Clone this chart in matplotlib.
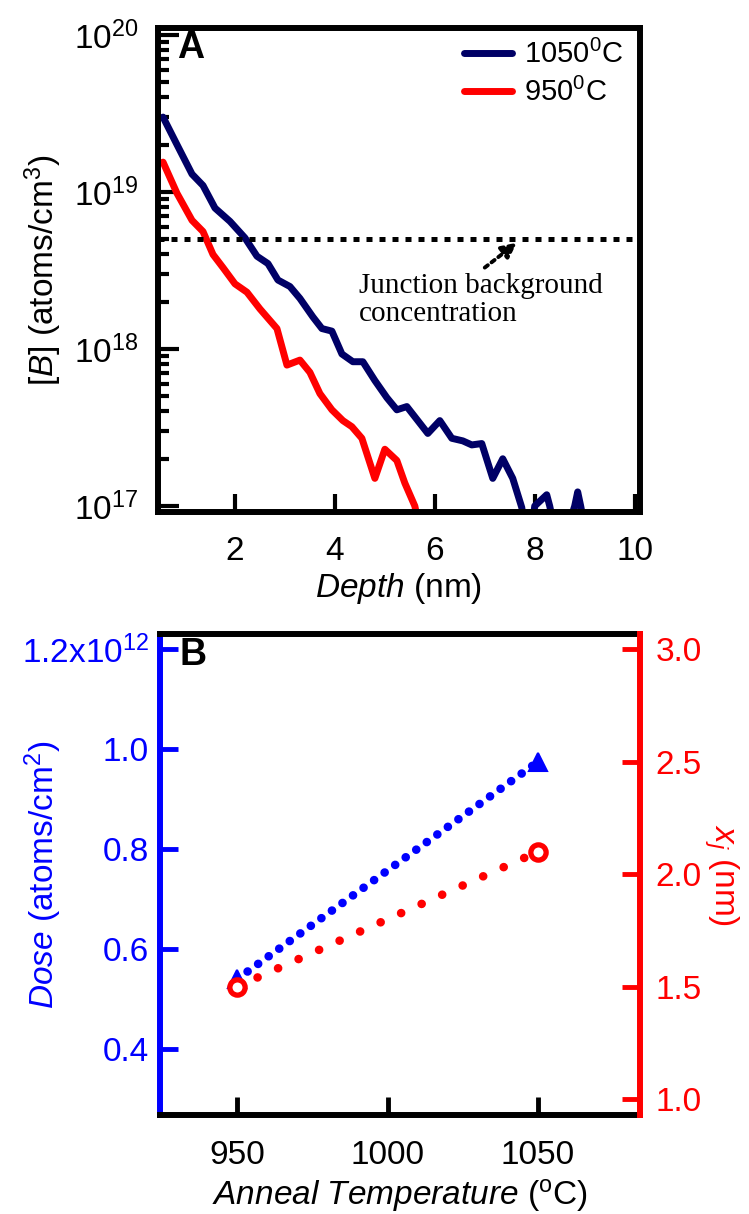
import matplotlib
matplotlib.use('Agg')
import matplotlib.pyplot as plt
from matplotlib.ticker import FixedLocator, FuncFormatter, LogLocator, NullFormatter

plt.rcParams['font.family'] = ['Liberation Sans', 'DejaVu Sans']
plt.rcParams['mathtext.fontset'] = 'custom'
plt.rcParams['mathtext.rm'] = 'Liberation Sans'
plt.rcParams['mathtext.it'] = 'Liberation Sans:italic'
plt.rcParams['mathtext.bf'] = 'Liberation Sans:bold'

# boron depth profiles (nm, atoms/cm^3)
depth_1050 = [0.56, 0.84, 1.14, 1.36, 1.6, 1.9, 2.2, 2.44, 2.66, 2.86, 3.1, 3.3,
              3.56, 3.74, 3.94, 4.14, 4.36, 4.56, 4.8, 5.04, 5.24, 5.44, 5.86,
              6.1, 6.34, 6.56, 6.74, 6.94, 7.16, 7.36, 7.56, 7.74, 7.88, 8.0,
              8.24, 8.3, 8.5, 8.8, 8.86, 8.92, 9.1]
conc_1050 = [3.0e19, 2.0e19, 1.3e19, 1.1e19, 7.9e18, 6.5e18, 5.1e18, 3.9e18,
             3.5e18, 2.75e18, 2.5e18, 2.1e18, 1.6e18, 1.35e18, 1.3e18, 9.3e17,
             8.3e17, 8.3e17, 6.3e17, 4.9e17, 4.1e17, 4.3e17, 2.9e17, 3.5e17,
             2.7e17, 2.6e17, 2.45e17, 2.5e17, 1.5e17, 2.0e17, 1.5e17, 0.98e17,
             5e16, 1.0e17, 1.18e17, 1.0e17, 5e16, 1.0e17, 1.23e17, 1.0e17, 5e16]
depth_950 = [0.56, 0.84, 1.14, 1.36, 1.56, 1.76, 2.0, 2.24, 2.5, 2.84, 3.04,
             3.3, 3.5, 3.7, 3.94, 4.16, 4.34, 4.54, 4.8, 5.0, 5.24, 5.4, 5.6, 5.8]
conc_950 = [1.55e19, 9.8e18, 6.6e18, 5.6e18, 4.0e18, 3.3e18, 2.6e18, 2.3e18,
            1.8e18, 1.35e18, 7.9e17, 8.5e17, 7.1e17, 5.2e17, 4.1e17, 3.5e17,
            3.2e17, 2.7e17, 1.5e17, 2.3e17, 1.95e17, 1.4e17, 1.0e17, 5e16]
junction_bg = 5e18

# dose and junction depth vs anneal temperature
anneal_T = [950, 1050]
dose_e12 = [0.54, 0.975]      # x 1e12 atoms/cm^2
xj_nm = [1.5, 2.1]

navy = '#000066'

fig = plt.figure(figsize=(7.49, 12.14), dpi=100)

# ---- panel A ----
axA = fig.add_axes([0.211, 0.578, 0.643, 0.399])
axA.plot(depth_1050, conc_1050, color=navy, lw=5, solid_capstyle='round',
         solid_joinstyle='round', label='1050$^0$C')
axA.plot(depth_950, conc_950, color='red', lw=5, solid_capstyle='round',
         solid_joinstyle='round', label='950$^0$C')
axA.axhline(junction_bg, color='k', lw=3.6, linestyle=(0, (1.2, 1.4)),
            dash_capstyle='butt')
axA.annotate('', xy=(7.64, 4.75e18), xytext=(7.0, 3.3e18),
             arrowprops=dict(arrowstyle='-|>', linestyle=(0, (1, 1.2)), lw=2.8,
                             color='k', mutation_scale=22, shrinkA=0, shrinkB=0))
axA.text(4.48, 3.05e18, 'Junction background\nconcentration', va='top',
         family='Liberation Serif', fontsize=21, linespacing=1.12)

axA.set_yscale('log')
axA.set_xlim(0.46, 10.1)
axA.set_ylim(10 ** 16.96, 10 ** 20.045)
axA.xaxis.set_major_locator(FixedLocator([2, 4, 6, 8, 10]))
axA.yaxis.set_major_locator(LogLocator(base=10, numticks=10))
axA.yaxis.set_minor_locator(LogLocator(base=10, subs=range(2, 10), numticks=10))
axA.yaxis.set_minor_formatter(NullFormatter())
axA.tick_params(axis='x', which='major', direction='in', length=13, width=3,
                labelsize=24, top=False, pad=17)
axA.tick_params(axis='y', which='major', direction='in', length=15, width=3,
                labelsize=24, right=False, pad=14)
axA.tick_params(axis='y', which='minor', direction='in', length=8, width=3,
                right=False)
for s in axA.spines.values():
    s.set_linewidth(4.3)
axA.set_xlabel(r'$\mathit{Depth}$ (nm)', fontsize=24, labelpad=3)
axA.set_ylabel(r'$\mathit{[B]}$ (atoms/cm$^3$)', fontsize=24)
axA.yaxis.set_label_coords(-0.195, 0.5)
axA.legend(loc='upper right', frameon=False, fontsize=21, handlelength=1.65,
           handletextpad=0.4, labelspacing=0.3, borderaxespad=0.0,
           bbox_to_anchor=(0.99, 1.0))
axA.text(0.04, 0.995, 'A', transform=axA.transAxes, va='top', fontsize=27,
         fontweight='bold')

# ---- panel B ----
axB = fig.add_axes([0.2136, 0.0815, 0.6409, 0.396])
axB2 = axB.twinx()
axB.plot(anneal_T, dose_e12, color='blue', lw=6.2, linestyle=(0, (0.01, 1.5)),
         dash_capstyle='round', marker='^', ms=13, mew=1.5)
axB2.plot(anneal_T, xj_nm, color='red', lw=6.2, linestyle=(0, (0.01, 2.6)),
          dash_capstyle='round', marker='o', ms=11, mew=3.8, mfc='white',
          mec='red')

axB.set_xlim(924.4, 1083.9)
axB.set_ylim(0.268, 1.23)
axB2.set_ylim(0.929, 3.067)
axB.xaxis.set_major_locator(FixedLocator([950, 1000, 1050]))
axB.yaxis.set_major_locator(FixedLocator([0.4, 0.6, 0.8, 1.0, 1.2]))
axB.yaxis.set_major_formatter(FuncFormatter(
    lambda v, p: '1.2x10$^{12}$' if v > 1.1 else '%.1f' % v))
axB2.yaxis.set_major_locator(FixedLocator([1.0, 1.5, 2.0, 2.5, 3.0]))
axB2.yaxis.set_major_formatter(FuncFormatter(lambda v, p: '%.1f' % v))

axB.tick_params(axis='x', direction='in', length=13, width=3.5, labelsize=24,
                top=False, pad=18)
axB.tick_params(axis='y', direction='in', length=13, width=3.5, labelsize=24,
                colors='blue', right=False, pad=8)
axB2.tick_params(axis='y', direction='in', length=13, width=3.5, labelsize=24,
                 colors='red', pad=11)

for s in axB.spines.values():
    s.set_linewidth(4.3)
axB.spines['left'].set_color('blue')
axB.spines['right'].set_visible(False)
for name in ['left', 'top', 'bottom']:
    axB2.spines[name].set_visible(False)
axB2.spines['right'].set_color('red')
axB2.spines['right'].set_linewidth(4.3)

axB.set_xlabel(r'$\mathit{Anneal\ Temperature}$ ($^{\mathrm{o}}$C)',
               fontsize=24, labelpad=4)
axB.set_ylabel(r'$\mathit{Dose}$ (atoms/cm$^2$)', fontsize=24, color='blue')
axB.yaxis.set_label_coords(-0.2, 0.5)
axB2.set_ylabel(r'$\mathit{x_j}$ (nm)', fontsize=24, color='red', rotation=270,
                va='center')
axB2.yaxis.set_label_coords(1.17, 0.5)
axB.text(0.04, 0.995, 'B', transform=axB.transAxes, va='top', fontsize=27,
         fontweight='bold')

fig.savefig('out.png', dpi=100)
